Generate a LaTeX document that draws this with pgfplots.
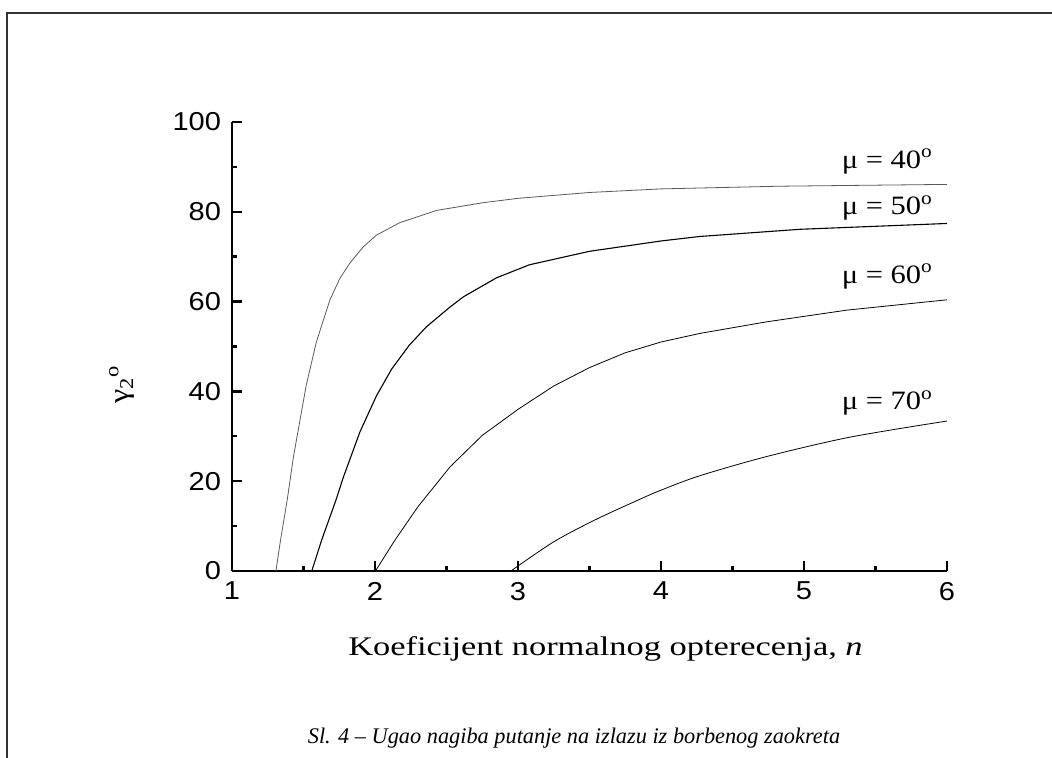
\documentclass[border=0pt]{standalone}
\usepackage{pgfplots}
\pgfplotsset{compat=1.18}
\usepackage{fontspec}
\setmainfont[FakeStretch=1.15]{Liberation Serif}
\newfontfamily\labelf[FakeStretch=1.28]{Liberation Serif}
\newfontfamily\capf{Liberation Serif}
\newfontfamily\ticksf[FakeStretch=1.12]{Liberation Sans}

\begin{document}
\begin{tikzpicture}
\begin{axis}[
    at={(0,0)}, anchor=south west,
    scale only axis,
    width=357.5bp, height=224.5bp,
    xmin=1, xmax=6, ymin=0, ymax=100,
    axis x line=bottom, axis y line=left,
    axis line style={-, line width=1.2bp},
    xtick={1,2,3,4,5,6}, ytick={0,20,40,60,80,100},
    minor x tick num=1, minor y tick num=1,
    tick align=inside,
    major tick length=5bp, minor tick length=2.5bp,
    tick style={line width=1.2bp, black},
    ticklabel style={font=\ticksf\fontsize{13}{15}\selectfont},
    /pgf/number format/assume math mode=true,
    yticklabel style={xshift=-2bp},
    xticklabel style={yshift=-2bp},
    xlabel={Koeficijent normalnog opterecenja, \textit{n}},
    xlabel style={at={(axis description cs:0.5,0)}, anchor=center,
        yshift=-39bp, xshift=8bp, font=\labelf\fontsize{13.5}{15}\selectfont},
    ylabel={γ\textsubscript{2}\textsuperscript{o}},
    ylabel style={at={(axis description cs:0,0.5)}, anchor=center,
        yshift=55bp, xshift=-19bp, font=\fontsize{14}{16}\selectfont},
    clip=false,
    cycle list={{black!65, line width=0.55bp, no markers, smooth, tension=0.5}},
]
% mu = 40
\addplot coordinates {(1.307,0) (1.34,7) (1.386,15.8) (1.43,25.5) (1.52,41.5)
 (1.59,51) (1.685,60.4) (1.755,65.2) (1.825,68.6) (1.918,72.2) (2.01,74.8)
 (2.175,77.6) (2.43,80.3) (2.75,82) (3,83) (3.5,84.3) (4,85.1) (4.83,85.7) (6,86.1)};
% mu = 50
\addplot coordinates {(1.558,0) (1.627,6.9) (1.727,15.8) (1.78,21) (1.895,31)
 (2.01,39) (2.117,45) (2.24,50.3) (2.36,54.4) (2.525,58.8) (2.62,61.1)
 (2.85,65.3) (3.08,68.2) (3.5,71.2) (4,73.5) (4.27,74.5) (4.97,76.1) (6,77.4)};
% mu = 60
\addplot coordinates {(2.003,0) (2.14,6.9) (2.3,14.3) (2.525,23.2) (2.75,30.2)
 (3,36) (3.25,41.2) (3.5,45.3) (3.75,48.6) (4,51) (4.27,52.9) (4.74,55.5)
 (5.3,58.1) (6,60.4)};
% mu = 70
\addplot coordinates {(2.95,0) (3.25,6.5) (3.54,11.4) (3.84,15.8) (4,18)
 (4.27,21.2) (4.74,25.5) (5.32,29.8) (6,33.4)};

\node[anchor=base east, font=\fontsize{13.3}{15}\selectfont] at (axis cs:5.95,89.75) {μ = 40\textsuperscript{o}};
\node[anchor=base east, font=\fontsize{13.3}{15}\selectfont] at (axis cs:5.95,79.3) {μ = 50\textsuperscript{o}};
\node[anchor=base east, font=\fontsize{13.3}{15}\selectfont] at (axis cs:5.95,64.1) {μ = 60\textsuperscript{o}};
\node[anchor=base east, font=\fontsize{13.3}{15}\selectfont] at (axis cs:5.95,35.9) {μ = 70\textsuperscript{o}};
\end{axis}
% caption and outer frame
\node[font=\capf\itshape\fontsize{11.2}{13}\selectfont] at (171bp,-83.5bp)
  {Sl. 4 – Ugao nagiba putanje na izlazu iz borbenog zaokreta};
\draw[line width=1bp, black!80] (-112.5bp,-93.5bp) -- (-112.5bp,279bp) -- (410bp,279bp);
\pgfresetboundingbox
\useasboundingbox (-116bp,-93.5bp) rectangle (410bp,285.5bp);
\end{tikzpicture}
\end{document}
